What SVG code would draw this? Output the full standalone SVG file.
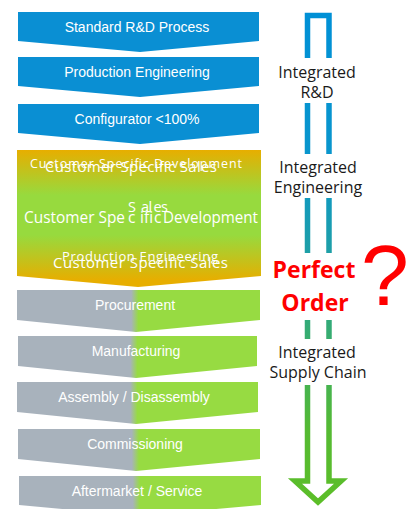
<svg xmlns="http://www.w3.org/2000/svg" width="410" height="509" viewBox="0 0 410 509">
<defs>
<linearGradient id="gSplit" x1="0" y1="0" x2="1" y2="0">
<stop offset="0" stop-color="#A8B2BC"/>
<stop offset="0.47" stop-color="#A8B2BC"/>
<stop offset="0.5" stop-color="#97DB42"/>
<stop offset="1" stop-color="#97DB42"/>
</linearGradient>
<linearGradient id="gBlock" x1="0" y1="150" x2="0" y2="287" gradientUnits="userSpaceOnUse">
<stop offset="0" stop-color="#E7AE00"/>
<stop offset="0.33" stop-color="#97DA3E"/>
<stop offset="0.62" stop-color="#97DA3E"/>
<stop offset="0.95" stop-color="#E7AE00"/>
</linearGradient>
<linearGradient id="gArrow" x1="0" y1="15" x2="0" y2="503" gradientUnits="userSpaceOnUse">
<stop offset="0" stop-color="#0090D6"/>
<stop offset="0.3" stop-color="#0A96CC"/>
<stop offset="0.5" stop-color="#20A0A4"/>
<stop offset="0.68" stop-color="#3AAE68"/>
<stop offset="0.85" stop-color="#55BA33"/>
<stop offset="1" stop-color="#5CBE28"/>
</linearGradient>
<style>
.blue{fill:#0A8FD3}
.split{fill:url(#gSplit)}
.lbl{font-family:"Liberation Sans",Arial,sans-serif;font-size:14px;fill:#fff;text-anchor:middle}
.blk{font-family:"Open Sans","Noto Sans",sans-serif;fill:#fff}
.side{font-family:"Open Sans","Noto Sans",sans-serif;font-size:16px;fill:#1a1a1a;text-anchor:middle}
.red{font-family:"Open Sans","Noto Sans",sans-serif;font-size:23px;font-weight:bold;fill:#FF0000;text-anchor:middle}
</style>
</defs>
<rect width="410" height="509" fill="#fff"/>

<g id="flow-arrow">
<path d="M307.5 15.5 H329 V481 H341 L318 502 L295 481 H307.5 Z" fill="none" stroke="url(#gArrow)" stroke-width="5.5" stroke-linejoin="miter"/>
<rect x="298" y="58" width="40" height="45" fill="#fff"/>
<rect x="298" y="154" width="40" height="44" fill="#fff"/>
<rect x="298" y="253" width="40" height="67" fill="#fff"/>
<rect x="298" y="339" width="40" height="46" fill="#fff"/>
</g>

<g id="n-standard-rd">
<polygon class="blue" points="18,12 259,12 259,41 140,52 18,41"/>
<text class="lbl" x="137" y="32" font-size="14.5">Standard R&amp;D Process</text>
</g>
<g id="n-production-eng">
<polygon class="blue" points="18,57 259,57 259,86 140,97 18,86"/>
<text class="lbl" x="137" y="77" font-size="14.5">Production Engineering</text>
</g>
<g id="n-configurator">
<polygon class="blue" points="18,104 259,104 259,133 140,144 18,133"/>
<text class="lbl" x="137" y="124" font-size="14.5">Configurator &lt;100%</text>
</g>

<g id="n-customer-specific">
<polygon fill="url(#gBlock)" points="17,150 261,150 261,276 138,287 17,276"/>
<text class="blk" x="30" y="168" font-size="12.5" textLength="212" lengthAdjust="spacing">Customer Specific Development</text>
<text class="blk" x="45" y="172" font-size="15" textLength="172" lengthAdjust="spacing">Customer Specific Sales</text>
<text class="blk" y="223" font-size="15.5"><tspan x="24" textLength="101" lengthAdjust="spacingAndGlyphs">Customer Spe</tspan><tspan x="128">c</tspan><tspan x="140">ifi</tspan><tspan x="154">c</tspan><tspan x="163" textLength="95" lengthAdjust="spacingAndGlyphs">Development</tspan></text>
<text class="blk" font-size="14.5"><tspan x="128" y="212">S</tspan><tspan x="141" y="212">a</tspan><tspan x="148.5" y="212">l</tspan><tspan x="153.5" y="212">e</tspan><tspan x="161" y="212">s</tspan></text>
<text class="blk" x="62" y="261" font-size="13" textLength="156" lengthAdjust="spacing">Production Engineering</text>
<text class="blk" x="53" y="268" font-size="15" textLength="175" lengthAdjust="spacing">Customer Specific Sales</text>
</g>

<g id="n-procurement">
<polygon class="split" points="17,290 260,290 260,320 136,332 17,320"/>
<text class="lbl" x="135" y="310">Procurement</text>
</g>
<g id="n-manufacturing">
<polygon class="split" points="18,336 257,336 257,366 136,378 18,366"/>
<text class="lbl" x="136" y="356">Manufacturing</text>
</g>
<g id="n-assembly">
<polygon class="split" points="17,382 258,382 258,412 136,424 17,412"/>
<text class="lbl" x="134" y="402">Assembly / Disassembly</text>
</g>
<g id="n-commissioning">
<polygon class="split" points="18,429 260,429 260,459 136,471 18,459"/>
<text class="lbl" x="135" y="449">Commissioning</text>
</g>
<g id="n-aftermarket">
<polygon class="split" points="19,476 261,476 261,505 138,516 19,505"/>
<text class="lbl" x="137" y="496">Aftermarket / Service</text>
</g>

<g id="labels">
<text class="side" x="317" y="78">Integrated</text>
<text class="side" x="317" y="98">R&amp;D</text>
<text class="side" x="318" y="173">Integrated</text>
<text class="side" x="318" y="193">Engineering</text>
<text class="red" x="314" y="278">Perfect</text>
<text class="red" x="315" y="311">Order</text>
<text x="385" y="305" font-family="Liberation Sans,Arial,sans-serif" font-size="86" fill="#FF0000" text-anchor="middle">?</text>
<text class="side" x="317" y="358">Integrated</text>
<text class="side" x="318" y="378">Supply Chain</text>
</g>
</svg>
